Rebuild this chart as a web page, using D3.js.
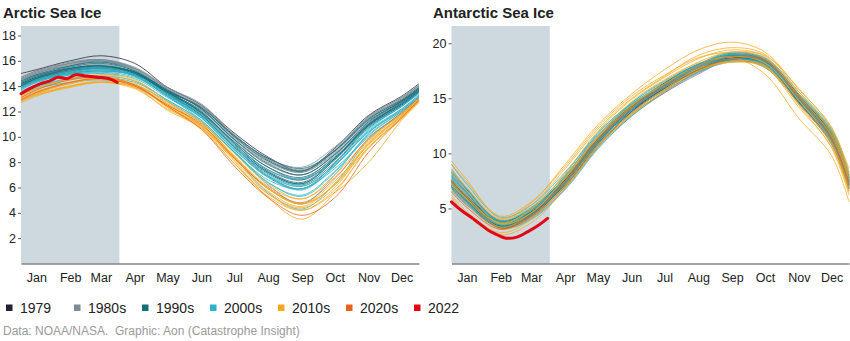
<!DOCTYPE html>
<html>
<head>
<meta charset="utf-8">
<script src="https://cdn.jsdelivr.net/npm/d3@7"></script>
<style>
  body { margin: 0; background: #fff; }
  svg { display: block; font-family: "Liberation Sans", Arial, sans-serif; }
</style>
</head>
<body>
<svg id="chart" width="850" height="341"></svg>
<script>
// day of year (0 = Jan 1) for each sample: Jan 1, the 15th of every month, Dec 31
var sampleDays = [0, 14, 45, 73, 104, 134, 165, 195, 226, 257, 287, 318, 348, 364];
var years = [1979,
  1980, 1981, 1982, 1983, 1984, 1985, 1986, 1987, 1988, 1989,
  1990, 1991, 1992, 1993, 1994, 1995, 1996, 1997, 1998, 1999,
  2000, 2001, 2002, 2003, 2004, 2005, 2006, 2007, 2008, 2009,
  2010, 2011, 2012, 2013, 2014, 2015, 2016, 2017, 2018, 2019,
  2020, 2021];

// extent in million km², one row per year
var arcticExtent = [
  [15.0, 15.3, 16.0, 16.4, 15.8, 13.9, 12.5, 10.3, 8.4, 7.3, 9.1, 11.7, 13.2, 14.2],
  [14.6, 15.0, 15.8, 16.1, 15.4, 13.8, 12.4, 10.1, 8.3, 7.6, 9.2, 11.6, 13.1, 14.0],
  [14.4, 14.9, 15.4, 15.7, 15.1, 13.5, 12.1, 9.8, 7.8, 7.0, 8.6, 11.2, 12.8, 13.8],
  [14.5, 15.1, 15.8, 16.1, 15.5, 13.9, 12.6, 10.2, 8.2, 7.3, 8.9, 11.5, 13.0, 14.1],
  [14.7, 15.2, 15.8, 16.0, 15.3, 13.7, 12.3, 10.0, 8.1, 7.2, 8.8, 11.4, 12.9, 13.9],
  [14.3, 14.8, 15.4, 15.6, 15.0, 13.4, 12.0, 9.6, 7.6, 6.6, 8.3, 10.9, 12.6, 13.7],
  [14.2, 14.7, 15.6, 16.0, 15.4, 13.8, 12.2, 9.7, 7.6, 6.7, 8.5, 11.1, 12.8, 13.8],
  [14.5, 15.0, 15.7, 16.0, 15.3, 13.6, 12.4, 10.1, 8.3, 7.4, 9.0, 11.5, 13.0, 14.0],
  [14.6, 15.1, 15.6, 15.9, 15.4, 13.9, 12.5, 10.1, 8.2, 7.3, 8.9, 11.6, 13.1, 14.1],
  [14.7, 15.2, 15.9, 16.1, 15.4, 13.7, 12.2, 9.9, 8.0, 7.2, 8.7, 11.4, 12.9, 13.9],
  [14.4, 14.9, 15.4, 15.6, 15.1, 13.5, 12.1, 9.8, 7.8, 7.0, 8.6, 11.1, 12.8, 13.8],
  [14.3, 14.8, 15.5, 15.8, 15.2, 13.6, 11.9, 9.4, 7.2, 6.3, 8.2, 10.9, 12.7, 13.7],
  [14.1, 14.6, 15.2, 15.5, 15.0, 13.5, 11.9, 9.5, 7.3, 6.4, 8.3, 11.0, 12.6, 13.6],
  [14.2, 14.7, 15.3, 15.5, 15.1, 13.6, 12.3, 10.0, 8.1, 7.3, 8.9, 11.4, 12.9, 13.9],
  [14.4, 14.9, 15.6, 15.9, 15.2, 13.4, 11.8, 9.3, 7.2, 6.3, 8.2, 11.0, 12.7, 13.7],
  [14.2, 14.7, 15.4, 15.6, 15.1, 13.7, 12.2, 9.8, 7.9, 7.0, 8.6, 11.2, 12.8, 13.8],
  [14.0, 14.5, 15.1, 15.4, 14.9, 13.3, 11.7, 9.2, 7.1, 6.2, 8.0, 10.8, 12.5, 13.5],
  [13.9, 14.4, 15.0, 15.2, 14.9, 13.6, 12.3, 10.1, 8.3, 7.5, 8.9, 11.3, 12.8, 13.8],
  [14.0, 14.6, 15.3, 15.6, 15.1, 13.5, 11.9, 9.6, 7.6, 6.8, 8.4, 11.0, 12.6, 13.6],
  [14.1, 14.6, 15.4, 15.6, 15.1, 13.6, 12.0, 9.5, 7.4, 6.6, 8.3, 10.9, 12.5, 13.6],
  [14.0, 14.5, 15.2, 15.4, 15.0, 13.4, 11.7, 9.2, 6.9, 5.9, 7.9, 10.7, 12.4, 13.5],
  [13.8, 14.4, 15.0, 15.3, 14.8, 13.2, 11.6, 9.2, 7.0, 6.1, 7.8, 10.6, 12.4, 13.4],
  [13.9, 14.4, 15.2, 15.5, 14.9, 13.4, 11.8, 9.5, 7.4, 6.7, 8.2, 10.8, 12.4, 13.5],
  [13.8, 14.3, 15.0, 15.3, 14.8, 13.3, 11.6, 9.1, 6.8, 5.8, 7.7, 10.5, 12.2, 13.3],
  [13.9, 14.5, 15.1, 15.4, 14.8, 13.2, 11.5, 9.0, 6.9, 6.1, 7.8, 10.4, 12.2, 13.3],
  [13.6, 14.1, 14.9, 15.0, 14.6, 13.1, 11.5, 9.0, 6.8, 5.9, 7.7, 10.4, 12.1, 13.2],
  [13.4, 13.9, 14.6, 14.8, 14.4, 12.9, 11.3, 8.8, 6.4, 5.4, 7.3, 10.2, 12.0, 13.1],
  [13.3, 13.8, 14.3, 14.5, 14.1, 12.8, 11.1, 8.8, 6.6, 5.9, 7.5, 10.0, 11.8, 13.0],
  [13.5, 14.0, 14.6, 14.7, 14.3, 12.9, 11.2, 8.4, 5.6, 4.3, 6.3, 9.8, 11.9, 13.1],
  [13.7, 14.3, 15.0, 15.2, 14.8, 13.2, 11.3, 8.8, 6.2, 4.7, 7.0, 10.3, 12.1, 13.2],
  [13.5, 14.1, 14.9, 15.1, 14.7, 13.2, 11.5, 8.9, 6.4, 5.3, 7.2, 10.1, 12.0, 13.1],
  [13.3, 13.8, 14.6, 14.8, 14.4, 12.6, 10.9, 8.4, 5.9, 4.7, 6.5, 9.4, 11.6, 12.9],
  [13.0, 13.5, 14.2, 14.6, 14.0, 12.4, 10.7, 7.9, 5.5, 4.4, 6.0, 9.5, 11.7, 12.9],
  [13.2, 13.8, 14.5, 14.9, 14.5, 12.8, 10.8, 8.1, 5.2, 3.5, 5.6, 9.2, 11.5, 12.8],
  [13.1, 13.6, 14.3, 14.7, 14.2, 12.7, 11.2, 8.7, 6.3, 5.1, 7.0, 9.8, 11.8, 13.0],
  [13.0, 13.5, 14.2, 14.6, 14.1, 12.6, 11.1, 8.5, 6.1, 5.1, 6.8, 9.7, 11.8, 13.0],
  [12.9, 13.4, 14.0, 14.3, 14.0, 12.5, 10.9, 8.4, 5.7, 4.5, 6.3, 9.4, 11.7, 12.9],
  [12.8, 13.3, 14.0, 14.3, 13.9, 12.1, 10.7, 8.2, 5.5, 4.2, 5.6, 8.0, 11.3, 12.7],
  [12.7, 13.2, 14.0, 14.4, 13.9, 12.4, 10.8, 8.3, 5.9, 4.7, 6.2, 9.2, 11.4, 12.8],
  [12.9, 13.3, 13.9, 14.3, 13.8, 12.2, 10.9, 8.5, 5.9, 4.7, 6.2, 9.6, 11.6, 12.9],
  [12.8, 13.4, 14.3, 14.6, 14.1, 12.3, 10.6, 7.9, 5.3, 4.2, 5.8, 9.1, 11.5, 12.8],
  [13.1, 13.7, 14.5, 14.7, 14.1, 12.4, 10.6, 7.7, 5.2, 3.8, 5.2, 8.8, 11.5, 12.9],
  [12.9, 13.5, 14.3, 14.6, 14.0, 12.5, 11.0, 8.3, 6.0, 4.8, 6.7, 9.9, 11.9, 13.1]
];

var antarcticExtent = [
  [7.5, 6.1, 3.6, 4.6, 7.1, 10.6, 13.8, 16.0, 17.8, 18.9, 18.4, 15.2, 11.8, 7.8],
  [8.6, 6.8, 3.9, 4.9, 7.6, 11.2, 14.2, 16.1, 17.6, 18.5, 18.0, 14.9, 11.5, 7.4],
  [7.0, 5.6, 3.4, 4.6, 7.9, 11.6, 14.3, 16.3, 18.0, 19.0, 18.3, 15.0, 11.2, 7.1],
  [6.9, 5.5, 3.3, 4.3, 7.0, 10.8, 13.7, 15.8, 17.7, 18.9, 18.6, 15.3, 11.8, 7.7],
  [7.7, 6.3, 3.7, 4.4, 7.2, 10.9, 13.6, 15.6, 17.4, 18.6, 18.1, 14.9, 11.4, 7.3],
  [7.2, 5.7, 3.2, 4.1, 6.8, 10.5, 13.4, 15.5, 17.3, 18.4, 17.8, 14.5, 10.8, 6.6],
  [6.6, 5.3, 3.3, 4.8, 7.8, 11.4, 14.4, 16.3, 17.8, 18.8, 18.3, 15.0, 11.6, 7.6],
  [7.6, 6.2, 3.7, 4.8, 7.5, 11.0, 13.8, 15.7, 17.4, 18.5, 17.8, 14.6, 11.0, 6.9],
  [7.1, 5.8, 3.6, 4.5, 7.3, 11.1, 14.1, 16.1, 17.8, 18.7, 18.4, 15.2, 11.7, 7.8],
  [8.1, 6.5, 3.9, 4.7, 7.2, 10.7, 13.7, 15.8, 17.5, 18.4, 17.9, 14.7, 11.1, 7.0],
  [7.0, 5.8, 3.5, 4.3, 6.9, 10.6, 13.5, 15.5, 17.2, 18.6, 18.0, 14.8, 11.2, 7.1],
  [7.1, 5.7, 3.4, 4.4, 7.3, 11.1, 14.0, 15.9, 17.5, 18.5, 18.0, 14.9, 11.5, 7.4],
  [7.4, 5.8, 3.5, 4.6, 7.6, 11.3, 14.2, 16.2, 17.8, 18.7, 18.2, 14.7, 11.0, 6.8],
  [6.8, 5.4, 3.3, 4.4, 7.1, 10.8, 13.8, 15.8, 17.6, 18.6, 18.1, 15.0, 11.5, 7.6],
  [7.6, 6.0, 3.3, 4.2, 7.0, 10.9, 14.0, 16.1, 17.8, 18.8, 18.3, 15.2, 11.9, 7.9],
  [7.9, 6.4, 3.6, 4.5, 7.3, 11.0, 14.0, 16.2, 17.9, 19.0, 18.4, 15.1, 11.6, 7.5],
  [7.5, 6.1, 3.8, 5.0, 7.8, 11.4, 14.3, 16.4, 18.1, 19.1, 18.6, 15.3, 11.7, 7.5],
  [7.3, 6.0, 3.7, 4.9, 7.7, 11.1, 14.0, 15.9, 17.6, 18.7, 18.0, 14.6, 10.9, 6.8],
  [7.0, 5.6, 3.4, 4.5, 7.4, 11.2, 14.3, 16.2, 17.9, 18.9, 18.5, 15.4, 12.0, 8.0],
  [8.3, 6.7, 3.8, 4.7, 7.4, 11.0, 13.9, 15.9, 17.6, 18.7, 18.1, 14.9, 11.3, 7.2],
  [7.4, 6.0, 3.6, 4.7, 7.6, 11.3, 14.4, 16.4, 18.1, 18.9, 18.4, 15.1, 11.8, 7.7],
  [7.8, 6.4, 3.8, 4.8, 7.9, 11.8, 14.6, 16.5, 18.0, 18.8, 18.2, 14.8, 11.1, 7.0],
  [7.3, 5.9, 3.6, 4.9, 7.7, 11.2, 14.2, 16.1, 17.6, 18.5, 18.0, 14.9, 11.4, 7.3],
  [6.9, 5.6, 3.2, 4.0, 6.7, 10.4, 13.4, 15.6, 17.4, 18.3, 18.0, 15.0, 11.6, 7.6],
  [8.0, 6.5, 3.9, 5.1, 8.0, 11.6, 14.5, 16.3, 17.9, 18.9, 18.6, 15.4, 12.1, 8.1],
  [8.4, 6.8, 3.7, 4.6, 7.4, 11.0, 14.0, 16.0, 17.8, 19.0, 18.5, 15.1, 11.5, 7.4],
  [7.7, 6.1, 3.5, 4.9, 8.1, 11.9, 14.5, 16.2, 17.8, 18.8, 18.4, 14.9, 11.2, 7.1],
  [6.9, 5.4, 3.3, 4.4, 7.3, 11.2, 14.2, 16.3, 18.1, 19.2, 18.5, 15.0, 11.3, 7.2],
  [7.1, 5.7, 3.5, 4.6, 7.4, 11.0, 14.0, 16.1, 17.9, 19.1, 18.7, 15.6, 12.2, 8.3],
  [9.0, 7.2, 4.2, 5.3, 8.3, 11.7, 14.4, 16.2, 17.8, 18.6, 18.1, 15.2, 11.9, 7.8],
  [8.2, 6.6, 3.6, 4.8, 7.8, 11.5, 14.6, 16.6, 18.1, 19.0, 18.3, 15.0, 11.4, 7.2],
  [7.6, 6.1, 3.6, 5.0, 8.0, 11.4, 14.3, 16.5, 18.3, 19.2, 18.6, 15.2, 11.6, 7.5],
  [7.4, 5.9, 3.3, 4.6, 7.7, 11.5, 14.4, 16.3, 17.9, 18.8, 18.2, 14.8, 11.0, 6.9],
  [7.2, 5.8, 3.7, 4.9, 8.2, 12.0, 14.9, 16.9, 18.6, 19.4, 18.8, 15.4, 11.8, 7.7],
  [8.5, 6.9, 4.0, 5.3, 8.6, 12.2, 15.0, 17.0, 18.9, 19.6, 19.0, 15.6, 12.0, 8.0],
  [9.3, 7.6, 4.1, 5.5, 9.0, 12.6, 15.4, 17.6, 19.4, 20.1, 19.2, 15.8, 12.4, 8.2],
  [9.0, 7.4, 4.3, 5.6, 8.8, 12.4, 15.2, 17.1, 18.7, 19.2, 18.9, 15.9, 12.3, 8.6],
  [8.3, 6.6, 3.6, 4.6, 7.8, 11.6, 14.7, 16.7, 18.2, 18.7, 17.2, 13.2, 9.8, 5.6],
  [6.0, 4.4, 2.6, 3.7, 6.8, 10.6, 13.6, 15.8, 17.5, 18.3, 17.8, 14.2, 10.6, 6.5],
  [6.2, 4.7, 2.8, 4.0, 7.1, 10.8, 13.7, 15.8, 17.7, 18.3, 17.9, 14.5, 10.9, 6.6],
  [7.1, 5.4, 3.1, 4.2, 7.0, 10.6, 13.5, 15.6, 17.5, 18.4, 18.0, 14.4, 10.5, 6.2],
  [6.5, 5.1, 3.1, 4.5, 7.4, 11.1, 14.2, 16.2, 17.9, 18.8, 18.5, 15.0, 11.3, 7.1],
  [7.5, 6.0, 3.2, 4.3, 7.5, 11.3, 14.1, 16.0, 17.6, 18.6, 18.4, 15.1, 11.4, 7.3]
];

// 2022 so far (through late March)
var days2022 = [0, 8, 18, 26, 34, 42, 50, 60, 70, 80, 88];
var arctic2022 = [13.4, 13.8, 14.2, 14.4, 14.7, 14.6, 14.9, 14.8, 14.7, 14.6, 14.3];
var antarctic2022 = [5.6, 4.9, 4.2, 3.6, 3.0, 2.6, 2.3, 2.4, 2.9, 3.5, 4.1];

var groupNames = ['1979', '1980s', '1990s', '2000s', '2010s', '2020s', '2022'];
var groupColors = ['#1e2332', '#7c8b93', '#146f7c', '#2db3c8', '#f7a81d', '#e9621c', '#e30613'];
var monthNames = ['Jan', 'Feb', 'Mar', 'Apr', 'May', 'Jun', 'Jul', 'Aug', 'Sep', 'Oct', 'Nov', 'Dec'];
var arcticTicks = [2, 4, 6, 8, 10, 12, 14, 16, 18];
var antarcticTicks = [5, 10, 15, 20];

var svg = d3.select('#chart');
var color = d3.scaleOrdinal().domain(groupNames).range(groupColors);
var yearStart = new Date(2022, 0, 1);

function dayToDate(d) {
  return d3.timeDay.offset(yearStart, d);
}

function groupOf(year) {
  if (year == 1979) return '1979';
  return Math.floor(year / 10) * 10 + 's';
}

var plotTop = 26;
var plotBottom = 263.5;

function drawPanel(opts) {
  var g = svg.append('g');
  var x = d3.scaleTime()
    .domain([yearStart, dayToDate(364)])
    .range([opts.left, opts.right]);
  var y = d3.scaleLinear()
    .domain([0, opts.yMax])
    .range([plotBottom, plotTop]);

  // Jan-Mar highlight
  g.append('rect')
    .attr('x', x(yearStart))
    .attr('y', plotTop)
    .attr('width', x(dayToDate(90)) - x(yearStart))
    .attr('height', plotBottom - plotTop)
    .attr('fill', '#cdd9de');

  var line = d3.line()
    .x(function(d) { return x(dayToDate(d.day)); })
    .y(function(d) { return y(d.value); })
    .curve(d3.curveCatmullRom.alpha(0.5));

  var series = years.map(function(year, i) {
    return {
      year: year,
      points: sampleDays.map(function(day, j) {
        return { day: day, value: opts.values[i][j] };
      })
    };
  });

  g.append('g').selectAll('path')
    .data(series)
    .enter().append('path')
      .attr('d', function(d) { return line(d.points); })
      .attr('fill', 'none')
      .attr('stroke', function(d) { return color(groupOf(d.year)); })
      .attr('stroke-width', 0.9)
      .attr('stroke-opacity', 0.85);

  g.append('path')
    .datum(days2022.map(function(day, j) {
      return { day: day, value: opts.current[j] };
    }))
    .attr('d', line)
    .attr('fill', 'none')
    .attr('stroke', color('2022'))
    .attr('stroke-width', 3)
    .attr('stroke-linecap', 'round');

  // month labels sit in the middle of each month
  var xAxis = d3.axisBottom(x)
    .tickValues(d3.range(12).map(function(m) { return new Date(2022, m, 15); }))
    .tickFormat(function(d) { return monthNames[d.getMonth()]; })
    .tickSize(0)
    .tickPadding(10);
  var xAxisGroup = g.append('g')
    .attr('transform', 'translate(0,' + plotBottom + ')')
    .call(xAxis);
  xAxisGroup.select('.domain')
    .attr('stroke', '#4a4a4a')
    .attr('stroke-width', 1.2);
  xAxisGroup.selectAll('text')
    .attr('fill', '#222')
    .style('font-size', '12.5px');

  var yAxis = d3.axisLeft(y)
    .tickValues(opts.ticks)
    .tickSize(3)
    .tickPadding(2);
  var yAxisGroup = g.append('g')
    .attr('transform', 'translate(' + opts.left + ',0)')
    .call(yAxis);
  yAxisGroup.select('.domain').remove();
  yAxisGroup.selectAll('line').attr('stroke', '#555');
  yAxisGroup.selectAll('text')
    .attr('fill', '#222')
    .style('font-size', '12.5px');

  svg.append('text')
    .attr('x', opts.titleX)
    .attr('y', 18)
    .attr('fill', '#222')
    .style('font-size', '15px')
    .style('font-weight', 'bold')
    .text(opts.title);
}

drawPanel({
  title: 'Arctic Sea Ice',
  titleX: 3,
  left: 21,
  right: 419,
  yMax: 18.75,
  ticks: arcticTicks,
  values: arcticExtent,
  current: arctic2022
});

drawPanel({
  title: 'Antarctic Sea Ice',
  titleX: 433,
  left: 451.5,
  right: 849,
  yMax: 21.57,
  ticks: antarcticTicks,
  values: antarcticExtent,
  current: antarctic2022
});

// legend
var legend = svg.append('g').attr('transform', 'translate(6,0)');
var items = legend.selectAll('g')
  .data(groupNames)
  .enter().append('g')
    .attr('transform', function(d, i) { return 'translate(' + (i * 68) + ',0)'; });
items.append('rect')
  .attr('x', 0)
  .attr('y', 304.5)
  .attr('width', 6.5)
  .attr('height', 6.5)
  .attr('fill', function(d) { return color(d); });
items.append('text')
  .attr('x', 14)
  .attr('y', 312.7)
  .attr('fill', '#222')
  .style('font-size', '14px')
  .text(function(d) { return d; });

svg.append('text')
  .attr('x', 3)
  .attr('y', 334.5)
  .attr('fill', '#9a9a9a')
  .style('font-size', '12px')
  .style('white-space', 'pre')
  .text('Data: NOAA/NASA.  Graphic: Aon (Catastrophe Insight)');
</script>
</body>
</html>
